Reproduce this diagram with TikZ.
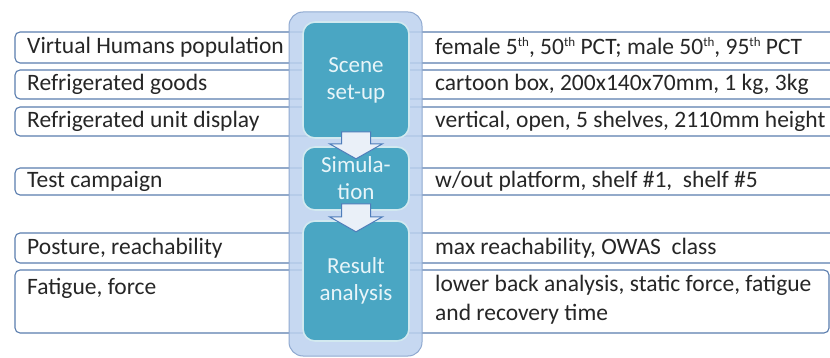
\documentclass[tikz,border=0pt]{standalone}
\usepackage{fontspec}
\setmainfont{Carlito}
\usetikzlibrary{calc}
\definecolor{rowline}{HTML}{5A7DAE}
\definecolor{txt}{HTML}{262626}
\definecolor{teal1}{HTML}{4AA6C3}
\definecolor{colfill}{HTML}{BDD2EF}
\definecolor{colline}{HTML}{8FA9D0}
\definecolor{arrfill}{HTML}{EAF0F8}
\definecolor{arrline}{HTML}{4F7DBA}
\definecolor{boxtxt}{HTML}{E8F5F9}
\newcommand{\ordsup}[1]{\raisebox{0.75ex}{\fontsize{13}{13}\selectfont #1}}
\begin{document}
\begin{tikzpicture}[x=1pt,y=-1pt,
 rowbox/.style={draw=rowline, line width=1.1pt, fill=white, rounded corners=5pt},
 lbl/.style={anchor=west, inner sep=0pt, text=txt, font=\fontsize{23.5}{29}\selectfont, align=left},
 stage/.style={draw=white!75!teal1, line width=1.6pt, fill=teal1, rounded corners=12pt, text=boxtxt, align=center, font=\fontsize{23}{27}\selectfont, minimum width=106pt, inner sep=0pt},
 blockarrow/.style={draw=arrline, line width=1pt, fill=arrfill}]
\useasboundingbox (0,0) rectangle (830,358);
\clip (0,0) rectangle (830,358);
\fill[white] (0,0) rectangle (830,358);
% rows
\draw[rowbox] (15,32) rectangle (840,63);
\draw[rowbox] (15,70) rectangle (840,99);
\draw[rowbox] (15,107) rectangle (840,136);
\draw[rowbox] (15,168) rectangle (840,195);
\draw[rowbox] (15,233) rectangle (840,263);
\draw[rowbox] (15,270) rectangle (829,333);
% column
\draw[draw=colline, fill=colfill, fill opacity=0.85, line width=1pt, rounded corners=14pt] (289,12) rectangle (422,356);
% stages
\node[stage, minimum height=116pt] (scene) at (356,80) {Scene\\set-up};
\node[stage, minimum height=63pt] (sim) at (356,178.5) {Simula-\\tion};
\node[stage, minimum height=120pt] (res) at (356,281) {Result\\analysis};
% block arrows
\draw[blockarrow] ($(scene.south)+(-14.5,-7)$) -- ($(scene.south)+(14.5,-7)$) -- ($(scene.south)+(14.5,5)$) -- ($(scene.south)+(26.5,5)$) -- ($(scene.south)+(0,20)$) -- ($(scene.south)+(-26.5,5)$) -- ($(scene.south)+(-14.5,5)$) -- cycle;
\draw[blockarrow] ($(sim.south)+(-14.5,-7)$) -- ($(sim.south)+(14.5,-7)$) -- ($(sim.south)+(14.5,6)$) -- ($(sim.south)+(26.5,6)$) -- ($(sim.south)+(0,21)$) -- ($(sim.south)+(-26.5,6)$) -- ($(sim.south)+(-14.5,6)$) -- cycle;
% left labels
\node[lbl] (l1) at (27,47.5) {Virtual Humans population};
\node[lbl] (l2) at (27,84.5) {Refrigerated goods};
\node[lbl] (l3) at (27,121) {Refrigerated unit display};
\node[lbl] (l4) at (27,181.5) {Test campaign};
\node[lbl] (l5) at (27,248) {Posture, reachability};
\node[lbl] (l6) at (27,288) {Fatigue, force};
% right labels
\node[lbl] (r1) at (435,47.5) {female 5\ordsup{th}, 50\ordsup{th} PCT; male 50\ordsup{th}, 95\ordsup{th} PCT};
\node[lbl] (r2) at (435,84.5) {cartoon box, 200x140x70mm, 1 kg, 3kg};
\node[lbl] (r3) at (435,121) {vertical, open, 5 shelves, 2110mm height};
\node[lbl] (r4) at (435,181.5) {w/out platform, shelf \#1,\ \ shelf \#5};
\node[lbl] (r5) at (435,248) {max reachability, OWAS\ \ class};
\node[lbl, anchor=north west] (r6) at (435,275) {lower back analysis, static force, fatigue\\and recovery time};
\end{tikzpicture}
\end{document}
